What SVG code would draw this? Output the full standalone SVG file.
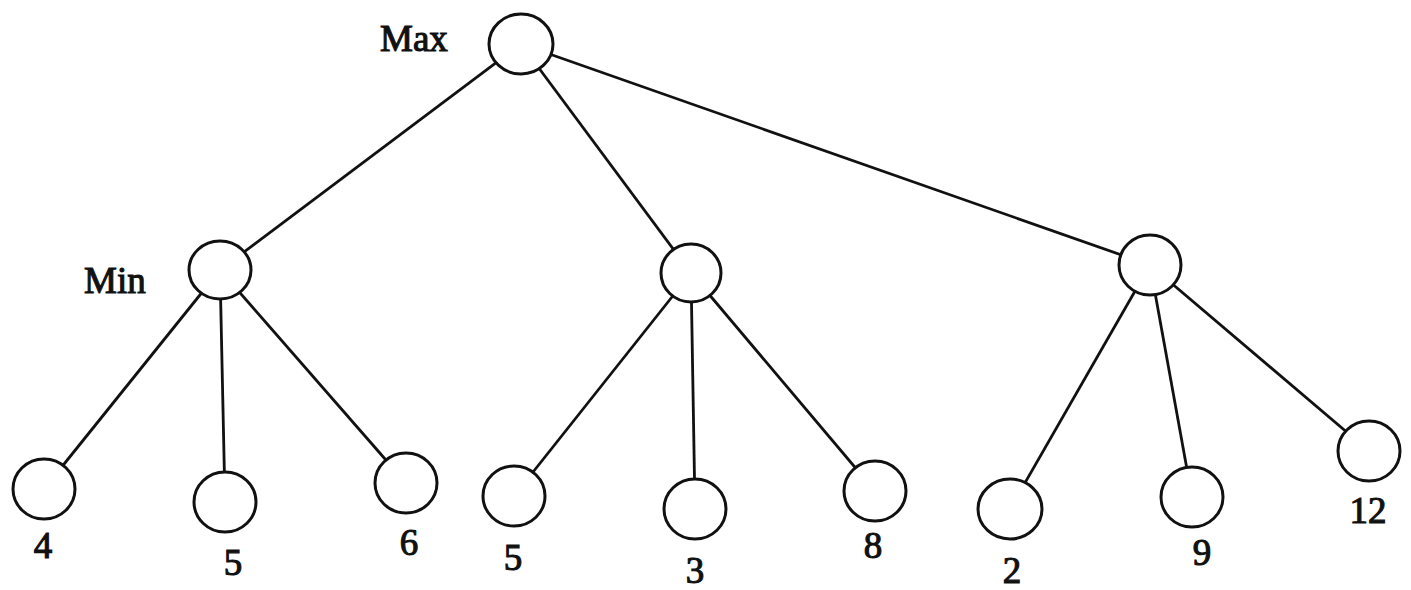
<svg xmlns="http://www.w3.org/2000/svg" width="1411" height="590" viewBox="0 0 1411 590">
<style>
.n{fill:#fff;stroke:#111;stroke-width:3}
.e{stroke:#111;stroke-width:2.8;fill:none}
.t{font-family:"Liberation Serif","DejaVu Serif",serif;font-size:37px;fill:#111;stroke:#111;stroke-width:1.1}
.v{text-anchor:middle}
</style>
<rect width="1411" height="590" fill="#fff"/>
<g id="connectors">
<line class="e" x1="521" y1="44" x2="220" y2="270"/>
<line class="e" x1="521" y1="44" x2="691" y2="273"/>
<line class="e" x1="521" y1="44" x2="1150" y2="265"/>
<line class="e" x1="220" y1="270" x2="44" y2="489"/>
<line class="e" x1="220" y1="270" x2="225" y2="502"/>
<line class="e" x1="220" y1="270" x2="406" y2="483"/>
<line class="e" x1="691" y1="273" x2="514" y2="496"/>
<line class="e" x1="691" y1="273" x2="695" y2="509"/>
<line class="e" x1="691" y1="273" x2="875" y2="491"/>
<line class="e" x1="1150" y1="265" x2="1010" y2="509"/>
<line class="e" x1="1150" y1="265" x2="1192" y2="497"/>
<line class="e" x1="1150" y1="265" x2="1369" y2="451"/>
</g>
<g id="root"><ellipse class="n" cx="521" cy="44" rx="32" ry="30"/><text class="t" x="380" y="51">Max</text></g>
<g id="min1"><ellipse class="n" cx="220" cy="270" rx="31" ry="29"/><text class="t" x="84" y="293">Min</text></g>
<g id="min2"><ellipse class="n" cx="691" cy="273" rx="30" ry="29"/></g>
<g id="min3"><ellipse class="n" cx="1150" cy="265" rx="31" ry="30"/></g>
<g id="leaf1"><ellipse class="n" cx="44" cy="489" rx="31" ry="30"/><text class="t v" x="43" y="558">4</text></g>
<g id="leaf2"><ellipse class="n" cx="225" cy="502" rx="31" ry="30"/><text class="t v" x="233" y="575">5</text></g>
<g id="leaf3"><ellipse class="n" cx="406" cy="483" rx="31" ry="30"/><text class="t v" x="409" y="555">6</text></g>
<g id="leaf4"><ellipse class="n" cx="514" cy="496" rx="31" ry="30"/><text class="t v" x="513" y="570">5</text></g>
<g id="leaf5"><ellipse class="n" cx="695" cy="509" rx="31" ry="30"/><text class="t v" x="695" y="583">3</text></g>
<g id="leaf6"><ellipse class="n" cx="875" cy="491" rx="31" ry="30"/><text class="t v" x="873" y="558">8</text></g>
<g id="leaf7"><ellipse class="n" cx="1010" cy="509" rx="32" ry="30"/><text class="t v" x="1012" y="583">2</text></g>
<g id="leaf8"><ellipse class="n" cx="1192" cy="497" rx="31" ry="30"/><text class="t v" x="1202" y="565">9</text></g>
<g id="leaf9"><ellipse class="n" cx="1369" cy="451" rx="31" ry="30"/><text class="t v" x="1368" y="523">12</text></g>
</svg>
